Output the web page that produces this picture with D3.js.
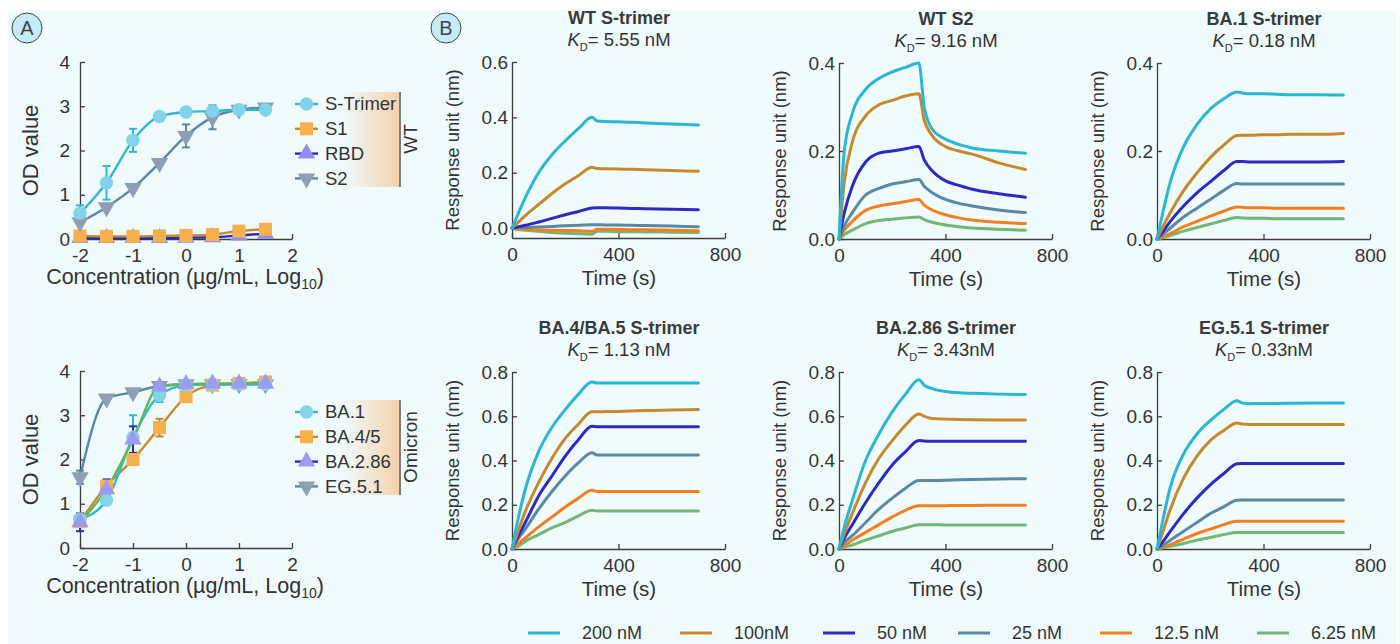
<!DOCTYPE html>
<html>
<head>
<meta charset="utf-8">
<script src="https://cdn.jsdelivr.net/npm/d3@7"></script>
<style>
  body { margin: 0; background: #fff; }
  svg text { font-family: 'Liberation Sans', Arial, Helvetica, sans-serif; fill: #333; }
</style>
</head>
<body>
<svg id="chart" width="1400" height="644"></svg>
<script>
// ---------- panel A data (OD vs log10 concentration) ----------
var concLog   = [ -2, -1.5, -1, -0.5, 0, 0.5, 1, 1.5 ];
var odTicksX  = [ -2, -1, 0, 1, 2 ];
var odTicksY  = [ 0, 1, 2, 3, 4 ];

var wtNames      = [ 'S-Trimer', 'S1', 'RBD', 'S2' ];
var wtSTrimer    = [ 0.58, 1.27, 2.23, 2.77, 2.87, 2.89, 2.92, 2.92 ];
var wtSTrimerErr = [ 0.18, 0.38, 0.26, 0.04, 0.04, 0.05, 0.03, 0.04 ];
var wtS1         = [ 0.07, 0.06, 0.06, 0.07, 0.08, 0.10, 0.18, 0.22 ];
var wtS1Err      = [ 0, 0, 0, 0, 0, 0, 0.02, 0.02 ];
var wtRBD        = [ 0.02, 0.02, 0.02, 0.02, 0.03, 0.04, 0.08, 0.12 ];
var wtRBDErr     = [ 0, 0, 0, 0, 0, 0, 0, 0 ];
var wtS2         = [ 0.38, 0.72, 1.15, 1.72, 2.33, 2.75, 2.92, 2.97 ];
var wtS2Err      = [ 0.05, 0.05, 0.04, 0.06, 0.26, 0.27, 0.04, 0.03 ];

var omiNames     = [ 'BA.1', 'BA.4/5', 'BA.2.86', 'EG.5.1' ];
var omiBA1       = [ 0.65, 1.08, 2.50, 3.45, 3.68, 3.70, 3.70, 3.70 ];
var omiBA1Err    = [ 0.05, 0.05, 0.50, 0.15, 0.03, 0.03, 0.03, 0.03 ];
var omiBA45      = [ 0.60, 1.40, 2.00, 2.72, 3.42, 3.68, 3.72, 3.75 ];
var omiBA45Err   = [ 0.10, 0.10, 0.05, 0.20, 0.10, 0.03, 0.03, 0.03 ];
var omiBA286     = [ 0.58, 1.33, 2.45, 3.65, 3.70, 3.72, 3.72, 3.72 ];
var omiBA286Err  = [ 0.20, 0.22, 0.30, 0.05, 0.03, 0.03, 0.03, 0.03 ];
var omiEG51      = [ 1.60, 3.38, 3.52, 3.66, 3.70, 3.70, 3.70, 3.70 ];
var omiEG51Err   = [ 0.15, 0.03, 0.03, 0.03, 0.03, 0.03, 0.03, 0.03 ];

// ---------- panel B data (BLI sensorgrams) ----------
var concLabels = [ '200 nM', '100nM', '50 nM', '25 nM', '12.5 nM', '6.25 nM' ];
var times      = [ 0, 20, 50, 100, 150, 200, 250, 300, 320, 350, 400, 450, 500, 600, 700 ];
var timeTicks  = [ 0, 400, 800 ];

var titles = [ 'WT S-trimer', 'WT S2', 'BA.1 S-trimer', 'BA.4/BA.5 S-trimer', 'BA.2.86 S-trimer', 'EG.5.1 S-trimer' ];
var kdText = [ '= 5.55 nM', '= 9.16 nM', '= 0.18 nM', '= 1.13 nM', '= 3.43nM', '= 0.33nM' ];

// rows: 200, 100, 50, 25, 12.5, 6.25 nM
var respWTStrimer = [
  [ 0, 0.045, 0.11, 0.2, 0.265, 0.315, 0.36, 0.4, 0.387, 0.385, 0.384, 0.382, 0.38, 0.376, 0.372 ],
  [ 0, 0.018, 0.045, 0.085, 0.125, 0.16, 0.19, 0.22, 0.215, 0.214, 0.213, 0.212, 0.211, 0.208, 0.205 ],
  [ 0, 0.004, 0.01, 0.022, 0.035, 0.048, 0.06, 0.072, 0.073, 0.073, 0.072, 0.071, 0.07, 0.068, 0.066 ],
  [ 0, 0.001, 0.002, 0.004, 0.006, 0.008, 0.01, 0.012, 0.012, 0.011, 0.011, 0.01, 0.009, 0.007, 0.005 ],
  [ 0, -0.003, -0.005, -0.007, -0.008, -0.009, -0.01, -0.012, -0.004, -0.004, -0.005, -0.006, -0.006, -0.008, -0.01 ],
  [ 0, -0.005, -0.008, -0.012, -0.016, -0.019, -0.021, -0.022, -0.012, -0.012, -0.013, -0.013, -0.014, -0.015, -0.016 ]
];
var respWTS2 = [
  [ 0, 0.2, 0.285, 0.34, 0.365, 0.38, 0.39, 0.4, 0.3, 0.25, 0.227, 0.215, 0.207, 0.2, 0.195 ],
  [ 0, 0.13, 0.22, 0.28, 0.305, 0.315, 0.325, 0.33, 0.27, 0.235, 0.21, 0.2, 0.193, 0.173, 0.158 ],
  [ 0, 0.06, 0.12, 0.175, 0.195, 0.2, 0.205, 0.21, 0.18, 0.155, 0.132, 0.122, 0.113, 0.103, 0.095 ],
  [ 0, 0.03, 0.06, 0.1, 0.115, 0.125, 0.13, 0.135, 0.12, 0.105, 0.09, 0.081, 0.075, 0.066, 0.06 ],
  [ 0, 0.02, 0.04, 0.065, 0.075, 0.08, 0.085, 0.09, 0.077, 0.066, 0.055, 0.048, 0.043, 0.038, 0.035 ],
  [ 0, 0.01, 0.02, 0.035, 0.042, 0.045, 0.048, 0.05, 0.044, 0.038, 0.032, 0.028, 0.025, 0.022, 0.02 ]
];
var respBA1 = [
  [ 0, 0.055, 0.13, 0.21, 0.26, 0.295, 0.318, 0.334, 0.332, 0.33, 0.33, 0.329, 0.328, 0.328, 0.327 ],
  [ 0, 0.025, 0.06, 0.11, 0.15, 0.185, 0.213, 0.235, 0.236, 0.236, 0.237, 0.237, 0.238, 0.238, 0.24 ],
  [ 0, 0.015, 0.04, 0.075, 0.105, 0.13, 0.155, 0.176, 0.176, 0.175, 0.175, 0.175, 0.175, 0.175, 0.176 ],
  [ 0, 0.01, 0.025, 0.05, 0.07, 0.09, 0.11, 0.126, 0.125, 0.125, 0.125, 0.125, 0.125, 0.125, 0.125 ],
  [ 0, 0.005, 0.012, 0.028, 0.04, 0.052, 0.063, 0.073, 0.072, 0.071, 0.071, 0.07, 0.07, 0.07, 0.07 ],
  [ 0, 0.003, 0.008, 0.018, 0.026, 0.034, 0.042, 0.049, 0.048, 0.047, 0.047, 0.046, 0.046, 0.046, 0.046 ]
];
var respBA45 = [
  [ 0, 0.12, 0.27, 0.44, 0.55, 0.63, 0.7, 0.755, 0.75, 0.75, 0.75, 0.75, 0.75, 0.75, 0.75 ],
  [ 0, 0.07, 0.17, 0.3, 0.41, 0.5, 0.565, 0.62, 0.62, 0.621, 0.622, 0.624, 0.626, 0.628, 0.63 ],
  [ 0, 0.05, 0.12, 0.24, 0.33, 0.42, 0.495, 0.555, 0.553, 0.553, 0.553, 0.553, 0.553, 0.553, 0.553 ],
  [ 0, 0.04, 0.09, 0.18, 0.26, 0.33, 0.39, 0.435, 0.425, 0.425, 0.425, 0.425, 0.425, 0.425, 0.425 ],
  [ 0, 0.02, 0.05, 0.1, 0.145, 0.19, 0.23, 0.265, 0.26, 0.26, 0.26, 0.26, 0.26, 0.26, 0.26 ],
  [ 0, 0.01, 0.035, 0.065, 0.095, 0.12, 0.15, 0.175, 0.172, 0.172, 0.172, 0.172, 0.172, 0.172, 0.172 ]
];
var respBA286 = [
  [ 0, 0.1, 0.22, 0.4, 0.52, 0.62, 0.7, 0.765, 0.74, 0.725, 0.712, 0.706, 0.704, 0.7, 0.698 ],
  [ 0, 0.07, 0.16, 0.3, 0.41, 0.49, 0.56, 0.61, 0.6, 0.59, 0.587, 0.585, 0.584, 0.583, 0.583 ],
  [ 0, 0.05, 0.11, 0.21, 0.3, 0.38, 0.44, 0.49, 0.488, 0.487, 0.487, 0.487, 0.487, 0.487, 0.487 ],
  [ 0, 0.03, 0.06, 0.12, 0.18, 0.23, 0.275, 0.31, 0.31, 0.31, 0.311, 0.313, 0.314, 0.316, 0.318 ],
  [ 0, 0.015, 0.04, 0.075, 0.11, 0.145, 0.175, 0.195, 0.195, 0.195, 0.196, 0.197, 0.197, 0.198, 0.198 ],
  [ 0, 0.008, 0.018, 0.04, 0.06, 0.08, 0.095, 0.11, 0.11, 0.11, 0.109, 0.109, 0.108, 0.108, 0.108 ]
];
var respEG51 = [
  [ 0, 0.12, 0.28, 0.43, 0.52, 0.58, 0.63, 0.67, 0.66, 0.657, 0.658, 0.658, 0.659, 0.66, 0.66 ],
  [ 0, 0.07, 0.18, 0.32, 0.42, 0.49, 0.535, 0.57, 0.565, 0.563, 0.563, 0.563, 0.563, 0.563, 0.563 ],
  [ 0, 0.03, 0.08, 0.16, 0.23, 0.29, 0.34, 0.385, 0.387, 0.387, 0.387, 0.387, 0.387, 0.387, 0.387 ],
  [ 0, 0.015, 0.04, 0.08, 0.12, 0.16, 0.19, 0.22, 0.221, 0.221, 0.222, 0.222, 0.222, 0.222, 0.222 ],
  [ 0, 0.008, 0.02, 0.045, 0.07, 0.09, 0.11, 0.125, 0.125, 0.125, 0.125, 0.125, 0.125, 0.125, 0.125 ],
  [ 0, 0.005, 0.012, 0.025, 0.04, 0.052, 0.065, 0.075, 0.075, 0.075, 0.075, 0.075, 0.075, 0.075, 0.075 ]
];

// colours
var concColors = [ '#2bb6d8', '#c8892c', '#2b2bc4', '#5a89a8', '#f57f20', '#72b872' ];
var FONT = "'Liberation Sans', Arial, Helvetica, sans-serif";

var svg = d3.select( '#chart' );

svg.append( 'rect' )
   .attr( 'x', 8 ).attr( 'y', 10 )
   .attr( 'width', 1388 ).attr( 'height', 634 )
   .attr( 'fill', '#effbfd' );

var grad = svg.append( 'defs' ).append( 'linearGradient' )
   .attr( 'id', 'tan' ).attr( 'x1', 0 ).attr( 'x2', 1 ).attr( 'y1', 0 ).attr( 'y2', 0 );
grad.append( 'stop' ).attr( 'offset', 0 ).attr( 'stop-color', '#f5d2ae' ).attr( 'stop-opacity', 0 );
grad.append( 'stop' ).attr( 'offset', 1 ).attr( 'stop-color', '#f5d2ae' ).attr( 'stop-opacity', 1 );

function styleAxis( g, size ) {
	g.attr( 'font-family', FONT ).attr( 'font-size', size ).attr( 'color', '#3d3d3d' );
	g.selectAll( 'path, line' ).attr( 'stroke-width', 1.3 );
	g.selectAll( 'text' ).style( 'fill', '#333' );
}

// panel letters
[ [ 'A', 27, 28 ], [ 'B', 446, 28 ] ].forEach( function ( p ) {
	svg.append( 'circle' ).attr( 'cx', p[1] ).attr( 'cy', p[2] ).attr( 'r', 15 )
	   .attr( 'fill', '#c5edf8' ).attr( 'stroke', '#444' ).attr( 'stroke-width', 1 );
	svg.append( 'text' ).attr( 'x', p[1] ).attr( 'y', p[2] + 7 )
	   .attr( 'text-anchor', 'middle' ).style( 'font-size', '20px' ).style( 'fill', '#444' ).text( p[0] );
});

// ---------- panel A ----------
function drawOD( cfg ) {
	var x = d3.scaleLinear().domain( [ -2, 2 ] ).range( [ 80, 292 ] );
	var y = d3.scaleLinear().domain( [ 0, 4 ] ).range( [ cfg.yBot, cfg.yBot - 177 ] );
	var g = svg.append( 'g' );

	var ax = g.append( 'g' ).attr( 'transform', 'translate(0,' + cfg.yBot + ')' )
		.call( d3.axisBottom( x ).tickValues( odTicksX ).tickFormat( function ( d ) { return String( d ); } )
			.tickSizeInner( -5 ).tickSizeOuter( 0 ).tickPadding( 10 ) );
	styleAxis( ax, 19 );
	var ay = g.append( 'g' ).attr( 'transform', 'translate(80,0)' )
		.call( d3.axisLeft( y ).tickValues( odTicksY ).tickFormat( d3.format( 'd' ) )
			.tickSizeInner( -5 ).tickSizeOuter( 0 ).tickPadding( 10 ) );
	styleAxis( ay, 19 );

	var midY = ( y( 0 ) + y( 4 ) ) / 2;
	g.append( 'text' ).attr( 'transform', 'translate(30,' + midY + ') rotate(-90)' )
	 .attr( 'text-anchor', 'middle' ).attr( 'dy', '0.35em' ).style( 'font-size', '22px' ).text( 'OD value' );

	var t = g.append( 'text' ).attr( 'x', 185 ).attr( 'y', cfg.yBot + 45 )
	 .attr( 'text-anchor', 'middle' ).style( 'font-size', '21.5px' );
	t.append( 'tspan' ).text( 'Concentration (µg/mL, Log' );
	t.append( 'tspan' ).attr( 'dy', 5 ).style( 'font-size', '14px' ).text( '10' );
	t.append( 'tspan' ).attr( 'dy', -5 ).text( ')' );

	var line = d3.line()
		.x( function ( d, i ) { return x( concLog[ i ] ); } )
		.y( function ( d ) { return y( d ); } )
		.curve( d3.curveMonotoneX );

	cfg.series.forEach( function ( s ) {
		g.append( 'path' ).datum( s.values )
		 .attr( 'd', line ).attr( 'fill', 'none' )
		 .attr( 'stroke', s.curve || s.line ).attr( 'stroke-width', 2.4 );
	});

	cfg.series.forEach( function ( s ) {
		var eb = g.append( 'g' ).attr( 'stroke', s.line ).attr( 'stroke-width', 2 );
		s.values.forEach( function ( v, i ) {
			var e = s.err[ i ];
			if ( !e ) return;
			var cx = x( concLog[ i ] );
			eb.append( 'line' ).attr( 'x1', cx ).attr( 'x2', cx ).attr( 'y1', y( v - e ) ).attr( 'y2', y( v + e ) );
			eb.append( 'line' ).attr( 'x1', cx - 4 ).attr( 'x2', cx + 4 ).attr( 'y1', y( v - e ) ).attr( 'y2', y( v - e ) );
			eb.append( 'line' ).attr( 'x1', cx - 4 ).attr( 'x2', cx + 4 ).attr( 'y1', y( v + e ) ).attr( 'y2', y( v + e ) );
		});
	});

	cfg.series.forEach( function ( s ) {
		g.selectAll( null ).data( s.values ).enter().append( 'path' )
		 .attr( 'd', d3.symbol().type( s.symbol ).size( s.size ) )
		 .attr( 'transform', function ( d, i ) {
			 return 'translate(' + x( concLog[ i ] ) + ',' + y( d ) + ') rotate(' + s.rot + ')';
		 })
		 .attr( 'fill', s.fill );
	});

	// legend
	var ly0 = cfg.legendY;
	g.append( 'rect' ).attr( 'x', 343 ).attr( 'y', ly0 - 12 ).attr( 'width', 56 ).attr( 'height', 95 )
	 .attr( 'fill', 'url(#tan)' );
	g.append( 'line' ).attr( 'x1', 400 ).attr( 'x2', 400 ).attr( 'y1', ly0 - 12 ).attr( 'y2', ly0 + 83 )
	 .attr( 'stroke', '#555' ).attr( 'stroke-width', 1.5 );
	g.append( 'text' ).attr( 'transform', 'translate(410,' + ( ly0 + 35 ) + ') rotate(-90)' )
	 .attr( 'text-anchor', 'middle' ).attr( 'dy', '0.35em' ).style( 'font-size', '19px' ).text( cfg.group );

	cfg.series.forEach( function ( s ) {
		var ly = ly0 + s.slot * 24.8;
		g.append( 'line' ).attr( 'x1', 295 ).attr( 'x2', 318 ).attr( 'y1', ly ).attr( 'y2', ly )
		 .attr( 'stroke', s.line ).attr( 'stroke-width', 2.4 );
		g.append( 'path' ).attr( 'd', d3.symbol().type( s.symbol ).size( s.size ) )
		 .attr( 'transform', 'translate(306.5,' + ly + ') rotate(' + s.rot + ')' ).attr( 'fill', s.fill );
		g.append( 'text' ).attr( 'x', 325 ).attr( 'y', ly ).attr( 'dy', '0.35em' )
		 .style( 'font-size', '18.5px' ).text( cfg.names[ s.slot ] );
	});
}

drawOD({
	yBot: 239, legendY: 104, group: 'WT', names: wtNames,
	series: [
		{ slot: 2, values: wtRBD, err: wtRBDErr, line: '#2a2ac0', fill: '#8d8ff2', symbol: d3.symbolTriangle, size: 130, rot: 0 },
		{ slot: 1, values: wtS1, err: wtS1Err, line: '#c98a2c', fill: '#f6b14e', symbol: d3.symbolSquare, size: 170, rot: 0 },
		{ slot: 3, values: wtS2, err: wtS2Err, line: '#5b86a6', fill: '#8e9fb3', symbol: d3.symbolTriangle, size: 130, rot: 180 },
		{ slot: 0, values: wtSTrimer, err: wtSTrimerErr, line: '#2fb8d6', fill: '#80d3e8', symbol: d3.symbolCircle, size: 140, rot: 0 }
	]
});

drawOD({
	yBot: 548, legendY: 412, group: 'Omicron', names: omiNames,
	series: [
		{ slot: 3, values: omiEG51, err: omiEG51Err, line: '#5b86a6', fill: '#8e9fb3', symbol: d3.symbolTriangle, size: 130, rot: 180 },
		{ slot: 1, values: omiBA45, err: omiBA45Err, line: '#c98a2c', fill: '#f6b14e', symbol: d3.symbolSquare, size: 170, rot: 0 },
		{ slot: 0, values: omiBA1, err: omiBA1Err, line: '#2fb8d6', fill: '#80d3e8', symbol: d3.symbolCircle, size: 140, rot: 0 },
		{ slot: 2, values: omiBA286, err: omiBA286Err, line: '#2a2ac0', curve: '#5cb85c', fill: '#9a9cf2', symbol: d3.symbolTriangle, size: 130, rot: 0 }
	]
});

// ---------- panel B ----------
function drawKinetics( cfg ) {
	var x = d3.scaleLinear().domain( [ 0, 800 ] ).range( [ cfg.x0, cfg.x0 + 213 ] );
	var y = d3.scaleLinear().domain( cfg.domain ).range( [ cfg.yBot, cfg.yTop ] );
	var g = svg.append( 'g' );
	var cx = cfg.x0 + 107;

	var ax = g.append( 'g' ).attr( 'transform', 'translate(0,' + cfg.yBot + ')' )
		.call( d3.axisBottom( x ).tickValues( timeTicks ).tickFormat( d3.format( 'd' ) )
			.tickSizeInner( -5 ).tickSizeOuter( 0 ).tickPadding( 10 ) );
	styleAxis( ax, 19 );
	var ay = g.append( 'g' ).attr( 'transform', 'translate(' + cfg.x0 + ',0)' )
		.call( d3.axisLeft( y ).tickValues( cfg.ticks ).tickFormat( d3.format( '.1f' ) )
			.tickSizeInner( -5 ).tickSizeOuter( 0 ).tickPadding( 4 ) );
	styleAxis( ay, 19 );

	g.append( 'text' ).attr( 'x', cx ).attr( 'y', cfg.yTop - 38 ).attr( 'text-anchor', 'middle' )
	 .style( 'font-size', '18px' ).style( 'font-weight', 'bold' ).style( 'fill', '#3a3a3a' ).text( cfg.title );
	var kd = g.append( 'text' ).attr( 'x', cx ).attr( 'y', cfg.yTop - 16 ).attr( 'text-anchor', 'middle' )
	 .style( 'font-size', '18.5px' );
	kd.append( 'tspan' ).style( 'font-style', 'italic' ).text( 'K' );
	kd.append( 'tspan' ).attr( 'dy', 5 ).style( 'font-size', '11px' ).text( 'D' );
	kd.append( 'tspan' ).attr( 'dy', -5 ).text( cfg.kd );

	g.append( 'text' ).attr( 'transform', 'translate(' + ( cfg.x0 - 59 ) + ',' + ( ( cfg.yTop + cfg.yBot ) / 2 ) + ') rotate(-90)' )
	 .attr( 'text-anchor', 'middle' ).attr( 'dy', '0.35em' ).style( 'font-size', '18.5px' ).text( 'Response unit (nm)' );
	g.append( 'text' ).attr( 'x', cx ).attr( 'y', cfg.yBot + 47 ).attr( 'text-anchor', 'middle' )
	 .style( 'font-size', '20.5px' ).text( 'Time (s)' );

	var line = d3.line()
		.x( function ( d, i ) { return x( times[ i ] ); } )
		.y( function ( d ) { return y( d ); } )
		.curve( d3.curveMonotoneX );

	for ( var k = cfg.data.length - 1; k >= 0; k-- ) {
		g.append( 'path' ).datum( cfg.data[ k ] )
		 .attr( 'd', line ).attr( 'fill', 'none' )
		 .attr( 'stroke', concColors[ k ] ).attr( 'stroke-width', 3 )
		 .attr( 'stroke-linejoin', 'round' ).attr( 'stroke-linecap', 'round' );
	}
}

var tick04 = [ 0, 0.2, 0.4 ];
var tick06 = [ 0, 0.2, 0.4, 0.6 ];
var tick08 = [ 0, 0.2, 0.4, 0.6, 0.8 ];

drawKinetics({ x0: 512,  yTop: 62,  yBot: 238, domain: [ -0.036, 0.6 ], ticks: tick06, title: titles[0], kd: kdText[0], data: respWTStrimer });
drawKinetics({ x0: 839,  yTop: 63,  yBot: 239, domain: [ 0, 0.4 ], ticks: tick04, title: titles[1], kd: kdText[1], data: respWTS2 });
drawKinetics({ x0: 1157, yTop: 63,  yBot: 239, domain: [ 0, 0.4 ], ticks: tick04, title: titles[2], kd: kdText[2], data: respBA1 });
drawKinetics({ x0: 512,  yTop: 372, yBot: 549, domain: [ 0, 0.8 ], ticks: tick08, title: titles[3], kd: kdText[3], data: respBA45 });
drawKinetics({ x0: 839,  yTop: 372, yBot: 549, domain: [ 0, 0.8 ], ticks: tick08, title: titles[4], kd: kdText[4], data: respBA286 });
drawKinetics({ x0: 1157, yTop: 372, yBot: 549, domain: [ 0, 0.8 ], ticks: tick08, title: titles[5], kd: kdText[5], data: respEG51 });

// concentration legend
var legX = [ 528, 680, 823, 958, 1100, 1257 ];
var leg = svg.append( 'g' );
concLabels.forEach( function ( c, i ) {
	leg.append( 'line' ).attr( 'x1', legX[ i ] ).attr( 'x2', legX[ i ] + 32 ).attr( 'y1', 633 ).attr( 'y2', 633 )
	   .attr( 'stroke', concColors[ i ] ).attr( 'stroke-width', 3 );
	leg.append( 'text' ).attr( 'x', legX[ i ] + 54 ).attr( 'y', 633 ).attr( 'dy', '0.35em' )
	   .style( 'font-size', '18px' ).text( c );
});
</script>
</body>
</html>
